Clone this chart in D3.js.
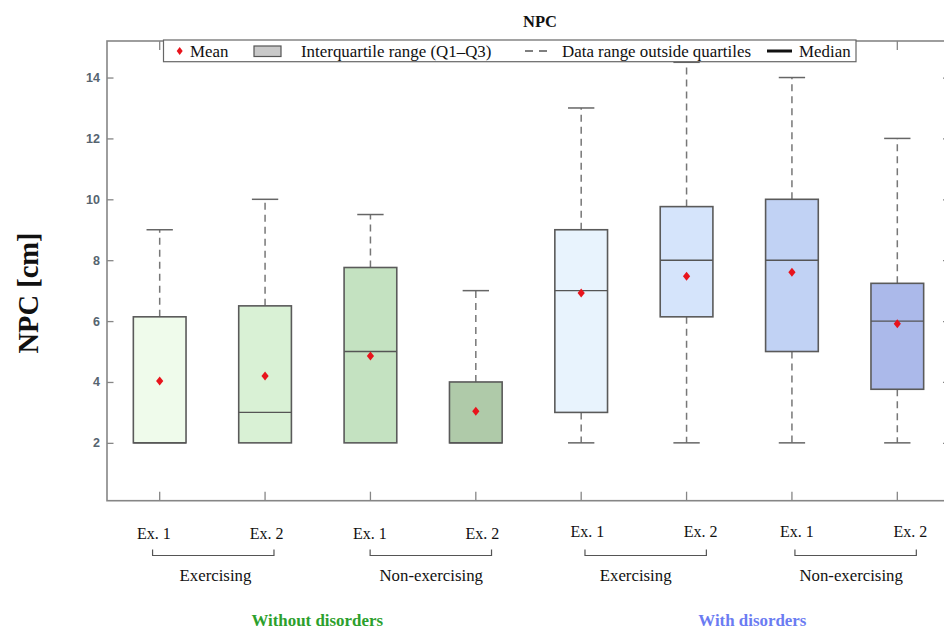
<!DOCTYPE html>
<html><head><meta charset="utf-8">
<script src="https://cdn.jsdelivr.net/npm/d3@7/dist/d3.min.js"></script>
<style>
html,body{margin:0;padding:0;background:#fff;overflow:hidden;}
svg{display:block;}
.serif{font-family:"Liberation Serif","Times New Roman",serif;}
</style></head>
<body>
<svg id="chart" width="944" height="628"></svg>
<script>
// ---- data ----
const categories = ["Ex. 1","Ex. 2","Ex. 1","Ex. 2","Ex. 1","Ex. 2","Ex. 1","Ex. 2"];
const whiskerLow  = [2, 2, 2, 2, 2, 2, 2, 2];
const q1          = [2, 2, 2, 2, 3, 6.14, 5, 3.76];
const median      = [2, 3, 5, 2, 7, 8, 8, 6];
const q3          = [6.14, 6.5, 7.76, 4, 9, 9.76, 10, 7.24];
const whiskerHigh = [9, 10, 9.5, 7, 13, 14.5, 14, 12];
const means       = [4.03, 4.2, 4.85, 3.04, 6.92, 7.47, 7.6, 5.91];
const yTicks = [2, 4, 6, 8, 10, 12, 14];
const subgroups = ["Exercising","Non-exercising","Exercising","Non-exercising"];
const groups = ["Without disorders","With disorders"];
const legendLabels = ["Mean","Interquartile range (Q1–Q3)","Data range outside quartiles","Median"];

// ---- styles / layout offsets ----
const fills = ["#effbeb","#d9f1d5","#c4e2c1","#afcaa9","#e8f3fd","#d5e4fb","#c1d2f4","#abb9ea"];
const groupColors = ["#2ca02c","#6b7cf2"];
const catLabelShift = [-5.7, 1.6, -0.5, 6.6, 6.2, 14.1, 4.9, 13];
const catLabelY = [539, 539, 539, 539, 537, 537, 537, 537];
const bracketShift = [0.9, 7.7, 11.8, 11];
const subLabelShift = [3.1, 8.1, 1.8, 6.5];
const groupLabelShift = [-0.5, 13.1];

const svg = d3.select("#chart");
const pLeft = 107, pRight = 950, pTop = 41, pBottom = 500.7;
const idx = d3.range(categories.length);
const x = d3.scaleBand().domain(idx).range([pLeft, pRight]).paddingInner(0.5).paddingOuter(0.25);
const y = d3.scaleLinear().domain([0.1, 15.2]).range([pBottom, pTop]);
const cx = i => x(i) + x.bandwidth() / 2;
const bw = x.bandwidth();
const frameColor = "#868686";

// title
svg.append("text").attr("class","serif").attr("x", 540).attr("y", 27)
  .attr("text-anchor","middle").attr("font-weight","bold").attr("font-size",16.5).attr("fill","#111").text("NPC");

// y label
svg.append("text").attr("class","serif").attr("transform","translate(37.5,293) rotate(-90)")
  .attr("text-anchor","middle").attr("font-weight","bold").attr("font-size",28.5).attr("fill","#111").text("NPC [cm]");

// frame
svg.append("rect").attr("x", pLeft).attr("y", pTop).attr("width", pRight - pLeft).attr("height", pBottom - pTop)
  .attr("fill","none").attr("stroke", frameColor).attr("stroke-width",1.6);

// axes ticks via d3 axes
const yAxisL = svg.append("g").attr("transform",`translate(${pLeft},0)`)
  .call(d3.axisLeft(y).tickValues(yTicks).tickSize(-6.5).tickPadding(7).tickFormat(d3.format("d")));
yAxisL.select(".domain").remove();
yAxisL.selectAll("line").attr("stroke", frameColor).attr("stroke-width",1.3);
yAxisL.selectAll("text").attr("font-family","'Liberation Sans',Arial,sans-serif").attr("font-weight","bold")
  .attr("font-size",12.5).attr("fill","#56646f");

const yAxisR = svg.append("g").attr("transform",`translate(${pRight},0)`)
  .call(d3.axisRight(y).tickValues(yTicks).tickSize(-7).tickFormat(""));
yAxisR.select(".domain").remove();
yAxisR.selectAll("line").attr("stroke", frameColor).attr("stroke-width",1.3);

const xAxisB = svg.append("g").attr("transform",`translate(0,${pBottom})`)
  .call(d3.axisBottom(x).tickSize(-9).tickFormat(""));
xAxisB.select(".domain").remove();
xAxisB.selectAll("line").attr("stroke", frameColor).attr("stroke-width",1.3);

const xAxisT = svg.append("g").attr("transform",`translate(0,${pTop})`)
  .call(d3.axisTop(x).tickSize(-9).tickFormat(""));
xAxisT.select(".domain").remove();
xAxisT.selectAll("line").attr("stroke", frameColor).attr("stroke-width",1.3);

// boxes
const boxStroke = "#5a5a5a";
const g = svg.append("g");
idx.forEach(i => {
  const c = cx(i);
  if (whiskerHigh[i] > q3[i]) {
    g.append("line").attr("x1",c).attr("x2",c).attr("y1",y(q3[i])).attr("y2",y(whiskerHigh[i]))
      .attr("stroke","#777").attr("stroke-width",1.5).attr("stroke-dasharray","7,5");
    g.append("line").attr("x1",c - bw/4).attr("x2",c + bw/4).attr("y1",y(whiskerHigh[i])).attr("y2",y(whiskerHigh[i]))
      .attr("stroke","#666").attr("stroke-width",1.5);
  }
  if (whiskerLow[i] < q1[i]) {
    g.append("line").attr("x1",c).attr("x2",c).attr("y1",y(q1[i])).attr("y2",y(whiskerLow[i]))
      .attr("stroke","#777").attr("stroke-width",1.5).attr("stroke-dasharray","7,5");
    g.append("line").attr("x1",c - bw/4).attr("x2",c + bw/4).attr("y1",y(whiskerLow[i])).attr("y2",y(whiskerLow[i]))
      .attr("stroke","#666").attr("stroke-width",1.5);
  }
  g.append("rect").attr("x", x(i)).attr("y", y(q3[i])).attr("width", bw).attr("height", y(q1[i]) - y(q3[i]))
    .attr("fill", fills[i]).attr("stroke", boxStroke).attr("stroke-width",1.6);
  g.append("line").attr("x1", x(i)).attr("x2", x(i) + bw).attr("y1", y(median[i])).attr("y2", y(median[i]))
    .attr("stroke","#555").attr("stroke-width",1.4);
  g.append("path").attr("transform",`translate(${c},${y(means[i])})`)
    .attr("d","M0,-4.5L3.6,0L0,4.5L-3.6,0Z").attr("fill","#e8141c");
});

// category labels
idx.forEach(i => {
  svg.append("text").attr("class","serif").attr("x", cx(i) + catLabelShift[i]).attr("y", catLabelY[i])
    .attr("text-anchor","middle").attr("font-size",16).attr("fill","#111").text(categories[i]);
});

// brackets + subgroup labels
subgroups.forEach((s, k) => {
  const a = cx(2*k), b = cx(2*k + 1);
  const pairMid = (a + b) / 2;
  const mid = pairMid + bracketShift[k], half = 60.7;
  const by = 555.5;
  svg.append("path").attr("d",`M${mid-half},${by-6}L${mid-half},${by}L${mid+half},${by}L${mid+half},${by-6}`)
    .attr("fill","none").attr("stroke","#555").attr("stroke-width",1.2);
  svg.append("text").attr("class","serif").attr("x", pairMid + subLabelShift[k]).attr("y", 581)
    .attr("text-anchor","middle").attr("font-size",16.8).attr("fill","#111").text(s);
});

// group labels
groups.forEach((gname, k) => {
  const a = cx(4*k), b = cx(4*k + 3);
  svg.append("text").attr("class","serif").attr("x", (a + b) / 2 + groupLabelShift[k]).attr("y", 625.5)
    .attr("text-anchor","middle").attr("font-weight","bold").attr("font-size",16.9)
    .attr("fill", groupColors[k]).text(gname);
});

// legend
const lg = svg.append("g");
lg.append("rect").attr("x",163.5).attr("y",40).attr("width",692.5).attr("height",21.7)
  .attr("fill","#fff").attr("stroke","#666").attr("stroke-width",1.2);
lg.append("path").attr("transform","translate(179.7,51)").attr("d","M0,-4L3,0L0,4L-3,0Z").attr("fill","#e8141c");
lg.append("rect").attr("x",254).attr("y",46).attr("width",27).attr("height",10.5)
  .attr("fill","#c9c9c9").attr("stroke","#555").attr("stroke-width",1.2);
lg.append("line").attr("x1",525).attr("x2",551).attr("y1",51).attr("y2",51)
  .attr("stroke","#555").attr("stroke-width",1.3).attr("stroke-dasharray","8,6");
lg.append("line").attr("x1",767).attr("x2",792).attr("y1",51).attr("y2",51)
  .attr("stroke","#111").attr("stroke-width",3);
const lx = [190, 301, 562, 799];
legendLabels.forEach((t, k) => {
  lg.append("text").attr("class","serif").attr("x", lx[k]).attr("y", 56.5)
    .attr("font-size",16.9).attr("fill","#111").text(t);
});
</script>
</body></html>
